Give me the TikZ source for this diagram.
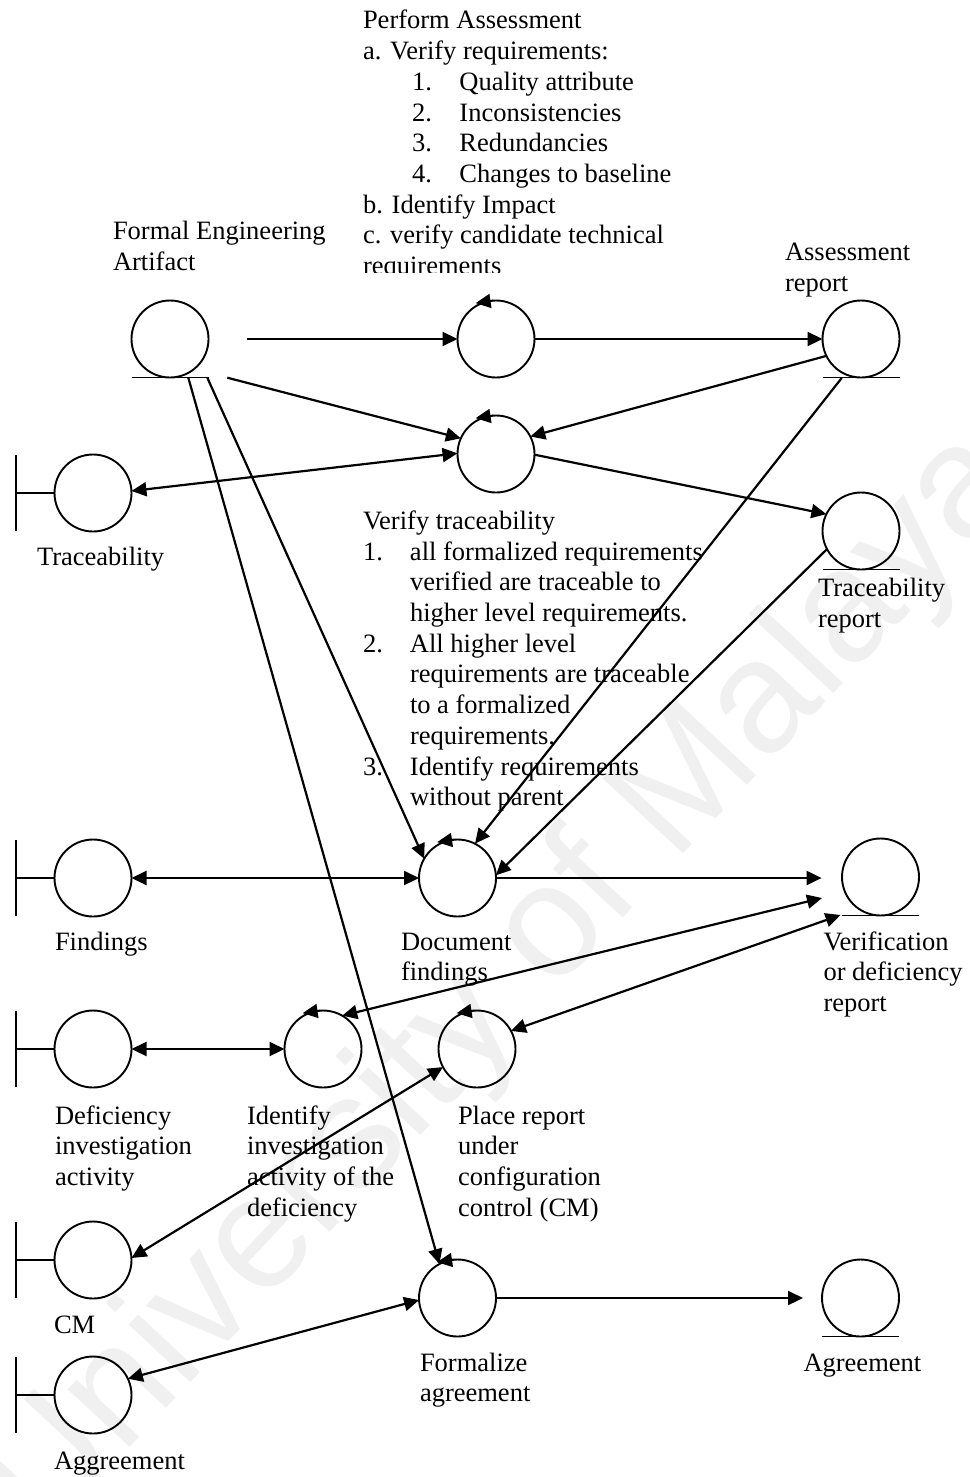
\documentclass[tikz,border=0pt]{standalone}
\usepackage{fontspec}
\setmainfont{Liberation Serif}
\newfontfamily\wmfont{Liberation Sans}
\usetikzlibrary{arrows.meta}

\begin{document}
\begin{tikzpicture}[x=1pt,y=1pt,
  every node/.style={inner sep=0pt, outer sep=0pt},
  obj/.style={circle, draw, line width=1.9pt, minimum size=77pt},
  lbl/.style={anchor=north west, align=left, font=\fontsize{26.5}{30.7}\selectfont},
  tipA/.tip={Triangle[length=15pt,width=14pt]},
  arr/.style={line width=2.2pt, -tipA},
  darr/.style={line width=2.2pt, tipA-tipA},
  ctl/.style={line width=1.9pt, -tipA},
  bar/.style={line width=1.9pt},
  wm/.style={rotate=47, text=black!6, font=\wmfont\fontsize{160}{160}\selectfont}]

\useasboundingbox (0,0) rectangle (969,-1477);

% faint background lettering
\node[wm] (wmark) at (505,-985) {University of Malaya};

% objects
\node[obj] (fea) at (170,-339) {};
\node[obj] (p1)  at (496,-339) {};
\node[obj] (asr) at (861,-339) {};
\node[obj] (p2)  at (496,-454) {};
\node[obj] (trb) at (93,-493) {};
\node[obj] (trr) at (861,-531) {};
\node[obj] (p3)  at (457.5,-878) {};
\node[obj] (fnd) at (93,-878) {};
\node[obj] (vdr) at (880.5,-877) {};
\node[obj] (dia) at (93,-1049) {};
\node[obj] (p4)  at (323,-1049) {};
\node[obj] (p5)  at (477,-1049) {};
\node[obj] (cmb) at (93,-1260) {};
\node[obj] (p6)  at (457.5,-1298) {};
\node[obj] (agb) at (93,-1395) {};
\node[obj] (agr) at (860.5,-1298) {};

% entity underlines
\foreach \n in {fea,asr,trr,vdr,agr}
  \draw[bar] ([xshift=-38.5pt]\n.south) -- ([xshift=38.5pt]\n.south);

% boundary bars
\foreach \n in {trb,fnd,dia,cmb,agb}
  \draw[bar] (\n.west) -- ++(-38.5,0) ++(0,38) -- ++(0,-76);

% control arrows on top of each control circle
\foreach \n in {p1,p2,p3,p4,p5,p6}
  \draw[ctl] (\n.95) -- ++(-17,-2.5);

% free ends of connectors
\coordinate (feaA) at (246.7,-339);
\coordinate (feaB) at (227.3,-377.7);
\coordinate (feaC) at (207.3,-377.7);
\coordinate (feaD) at (188.3,-377.7);
\coordinate (asrU) at (841.7,-378);
\coordinate (vdrIn) at (821.6,-878);
\coordinate (vdrA) at (822,-898);
\coordinate (vdrB) at (840.5,-915);
\coordinate (agrIn) at (803,-1298);

% connectors
\draw[arr]  (feaA) -- (p1.west);
\draw[arr]  (p1.east) -- (asr.west);
\draw[arr]  (feaB) -- (p2.156);
\draw[arr]  (asr.206) -- (p2.27);
\draw[darr] (trb.3) -- (p2.179);
\draw[arr]  (p2.-1) -- (trr.154);
\draw[arr]  (feaC) -- (p3.150);
\draw[arr]  (feaD) -- (p6.118);
\draw[arr]  (asrU) -- (p3.63);
\draw[arr]  (trr.208) -- (p3.4);
\draw[darr] (fnd.east) -- (p3.west);
\draw[arr]  (p3.east) -- (vdrIn);
\draw[darr] (vdrA) -- (p4.60);
\draw[darr] (vdrB) -- (p5.28);
\draw[darr] (dia.east) -- (p4.west);
\draw[darr] (cmb.3) -- (p5.208);
\draw[darr] (agb.25) -- (p6.183);
\draw[arr]  (p6.east) -- (agrIn);

% labels
\begin{scope}
  \clip (300,0) rectangle (760,-272);
  \node[lbl] (t1) at (363,-7.5) {\strut Perform Assessment\\
    a. Verify requirements:\\
    \hspace*{49pt}\makebox[47.5pt][l]{1.}Quality attribute\\
    \hspace*{49pt}\makebox[47.5pt][l]{2.}Inconsistencies\\
    \hspace*{49pt}\makebox[47.5pt][l]{3.}Redundancies\\
    \hspace*{49pt}\makebox[47.5pt][l]{4.}Changes to baseline\\
    b. Identify Impact\\
    c. verify candidate technical\\
    requirements};
\end{scope}

\node[lbl] (l1) at (113,-218.5) {\strut Formal Engineering\\Artifact};
\node[lbl] (l2) at (785,-239) {\strut Assessment\\report};
\node[lbl] (l3) at (37,-544.5) {\strut Traceability};
\node[lbl] (l4) at (818,-575.5) {\strut Traceability\\report};
\node[lbl] (t2) at (363,-508) {\strut Verify traceability\\
    \makebox[47pt][l]{1.}all formalized requirements\\
    \hspace*{47pt}verified are traceable to\\
    \hspace*{47pt}higher level requirements.\\
    \makebox[47pt][l]{2.}All higher level\\
    \hspace*{47pt}requirements are traceable\\
    \hspace*{47pt}to a formalized\\
    \hspace*{47pt}requirements.\\
    \makebox[47pt][l]{3.}Identify requirements\\
    \hspace*{47pt}without parent};
\node[lbl] (l5) at (55,-928.5) {\strut Findings};
\node[lbl] (l6) at (401,-928.5) {\strut Document\\findings};
\node[lbl] (l7) at (823.5,-928.5) {\strut Verification\\or deficiency\\report};
\node[lbl] (l8) at (55,-1102.5) {\strut Deficiency\\investigation\\activity};
\node[lbl] (l9) at (247,-1102.5) {\strut Identify\\investigation\\activity of the\\deficiency};
\node[lbl] (l10) at (458,-1102.5) {\strut Place report\\under\\configuration\\control (CM)};
\node[lbl] (l11) at (54,-1312) {\strut CM};
\node[lbl] (l12) at (420,-1349.5) {\strut Formalize\\agreement};
\node[lbl] (l13) at (803.5,-1349.5) {\strut Agreement};
\node[lbl] (l14) at (54,-1448) {\strut Aggreement};
\end{tikzpicture}
\end{document}
